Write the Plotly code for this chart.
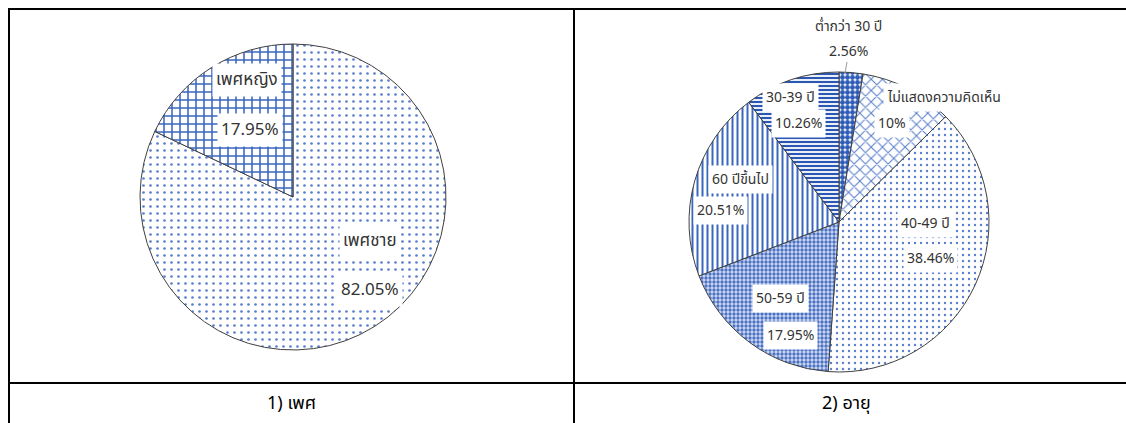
import plotly.graph_objects as go

W, H = 1126, 423

# ---- data ----
sex_labels = ["เพศชาย", "เพศหญิง"]
sex_values = [82.05, 17.95]
sex_text = ["82.05%", "17.95%"]

age_labels = ["ต่ำกว่า 30 ปี", "ไม่แสดงความคิดเห็น", "40-49 ปี", "50-59 ปี", "60 ปีขึ้นไป", "30-39 ปี"]
age_values = [2.56, 10.0, 38.46, 17.95, 20.51, 10.26]
age_text = ["2.56%", "10%", "38.46%", "17.95%", "20.51%", "10.26%"]

captions = ["1) เพศ", "2) อายุ"]

# ---- styles ----
FONT = "Noto Sans Thai, Tahoma, DejaVu Sans, sans-serif"

sex_patterns = [
    dict(shape=".", fgcolor="#5a7fcc", bgcolor="white", size=7, solidity=0.12),
    dict(shape="+", fgcolor="#3a66c0", bgcolor="white", size=8, solidity=0.35),
]
age_patterns = [
    dict(shape=".", fgcolor="#2f5cb8", bgcolor="white", size=5, solidity=0.75),
    dict(shape="x", fgcolor="#5a80cc", bgcolor="white", size=8, solidity=0.25),
    dict(shape=".", fgcolor="#5a7fcc", bgcolor="white", size=6, solidity=0.12),
    dict(shape=".", fgcolor="#4a72c4", bgcolor="#d4ddf1", size=4, solidity=0.55),
    dict(shape="|", fgcolor="#3a66c0", bgcolor="white", size=5, solidity=0.4),
    dict(shape="-", fgcolor="#2a56b4", bgcolor="white", size=4, solidity=0.55),
]

def px_domain(cx, cy, r):
    return dict(x=[(cx - r) / W, (cx + r) / W],
                y=[(H - cy - r) / H, (H - cy + r) / H])

def pattern(pl):
    return dict(shape=[p["shape"] for p in pl],
                fgcolor=[p["fgcolor"] for p in pl],
                bgcolor=[p["bgcolor"] for p in pl],
                size=[p["size"] for p in pl],
                solidity=[p["solidity"] for p in pl],
                fillmode="replace")

fig = go.Figure()
fig.add_trace(go.Pie(
    labels=sex_labels, values=sex_values, sort=False, direction="clockwise",
    rotation=0, textinfo="none", hoverinfo="label+percent", showlegend=False,
    marker=dict(colors=["white", "white"], line=dict(color="#404040", width=1),
                pattern=pattern(sex_patterns)),
    domain=px_domain(293, 197, 153),
))
fig.add_trace(go.Pie(
    labels=age_labels, values=age_values, sort=False, direction="clockwise",
    rotation=0, textinfo="none", hoverinfo="label+percent", showlegend=False,
    marker=dict(colors=["white"] * 6, line=dict(color="#404040", width=1),
                pattern=pattern(age_patterns)),
    domain=px_domain(839, 222, 150),
))

# label positions (pixels): category box, percent box
sex_pos = [((370, 241), (370, 290)), ((247, 80), (250, 130))]
age_pos = [((848, 27), (848, 52)), ((944, 97), (892, 124)), ((925, 223), (930, 258)),
           ((780, 298), (790, 335)), ((740, 180), (720, 210)), ((790, 97), (798, 124))]

def add_label(text, pos, size=15, box=True, color="#333333"):
    fig.add_annotation(x=pos[0] / W, y=1 - pos[1] / H, xref="paper", yref="paper",
                       xanchor="center", yanchor="middle",
                       text=text, showarrow=False,
                       bgcolor="white" if box else "rgba(0,0,0,0)", borderpad=3,
                       font=dict(size=size, color=color, family=FONT))

for lab, txt, (p1, p2) in zip(sex_labels, sex_text, sex_pos):
    add_label(lab, p1, 17)
    add_label(txt, p2, 17)
for i, (lab, txt, (p1, p2)) in enumerate(zip(age_labels, age_text, age_pos)):
    add_label(lab, p1, 14, box=(i != 0))
    add_label(txt, p2, 14, box=(i != 0))

# small leader line for the thin slice label
fig.add_shape(type="line", xref="paper", yref="paper",
              x0=847 / W, x1=845 / W, y0=1 - 62 / H, y1=1 - 73 / H,
              line=dict(color="#999999", width=1))

# table frame
line = dict(color="black", width=2)
for x0, y0, x1, y1 in [(8, 9, 1126, 9), (8, 383, 1126, 383), (9, 9, 9, 423), (574, 9, 574, 423)]:
    fig.add_shape(type="line", xref="paper", yref="paper",
                  x0=x0 / W, x1=x1 / W, y0=1 - y0 / H, y1=1 - y1 / H, line=line)

for cap, cx in zip(captions, [291, 846]):
    add_label(cap, (cx, 403), 18, box=False, color="black")

fig.update_layout(width=W, height=H, margin=dict(l=0, r=0, t=0, b=0),
                  paper_bgcolor="white", plot_bgcolor="white")
fig.write_html("out.html", config={"displayModeBar": False},
               post_script="document.body.style.margin='0';document.body.style.overflow='hidden';")
